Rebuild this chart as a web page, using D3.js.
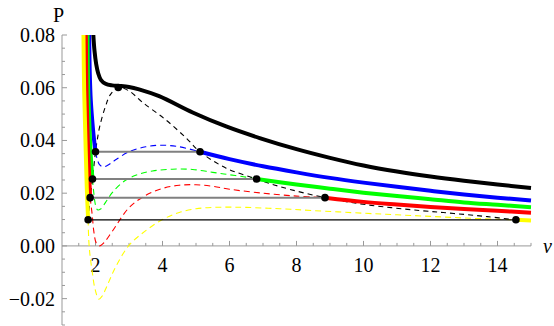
<!DOCTYPE html>
<html>
<head>
<meta charset="utf-8">
<script src="https://cdn.jsdelivr.net/npm/d3@7"></script>
<style>
  body { margin: 0; background: #fff; }
  svg { display: block; }
</style>
</head>
<body>
<div id="chart"></div>
<script>
// values, as [v, P]
const blackSolid = [[1.93, 0.081], [1.97, 0.074], [2.02, 0.069], [2.08, 0.0655], [2.16, 0.063], [2.3, 0.0615],
  [2.5, 0.0609], [2.7, 0.0607], [3.0, 0.0603], [3.3, 0.0594], [3.9, 0.0568], [4.9, 0.0506], [5.9, 0.0453],
  [6.9, 0.0409], [8.0, 0.0367], [9.0, 0.0334], [10.0, 0.0305], [11.0, 0.0282], [12.0, 0.0263], [13.0, 0.0247],
  [14.0, 0.0233], [15.0, 0.022]];

const blueLeft = [[1.81, 0.081], [1.83, 0.065], [1.86, 0.055], [1.9, 0.048], [1.95, 0.041], [2.0, 0.0357]];
const blueRight = [[5.12, 0.0357], [6.0, 0.0329], [7.0, 0.0302], [8.0, 0.0279], [9.0, 0.0258], [10.0, 0.024],
  [11.0, 0.0224], [12.0, 0.0209], [13.0, 0.0195], [14.0, 0.0183], [15.0, 0.0172]];
const blueDashed = [[2.0, 0.0357], [2.05, 0.033], [2.12, 0.0308], [2.22, 0.03], [2.35, 0.0305], [2.55, 0.0322],
  [3.0, 0.0357], [3.5, 0.0376], [3.95, 0.0382], [4.5, 0.0376], [5.12, 0.0357]];

const greenLeft = [[1.76, 0.081], [1.78, 0.06], [1.82, 0.045], [1.86, 0.034], [1.91, 0.0254]];
const greenRight = [[6.81, 0.0254], [8.0, 0.0233], [9.0, 0.0217], [10.0, 0.0202], [11.0, 0.0189], [12.0, 0.0177],
  [13.0, 0.0165], [14.0, 0.0156], [15.0, 0.0147]];
const greenDashed = [[1.91, 0.0254], [1.95, 0.02], [2.0, 0.0155], [2.06, 0.0137], [2.15, 0.014], [2.3, 0.0165],
  [2.5, 0.0202], [2.8, 0.024], [3.2, 0.0268], [3.7, 0.0284], [4.3, 0.0291], [4.9, 0.029], [5.5, 0.0279],
  [6.0, 0.027], [6.5, 0.0261], [6.81, 0.0254]];

const redLeft = [[1.71, 0.081], [1.73, 0.06], [1.77, 0.04], [1.81, 0.027], [1.84, 0.0183]];
const redRight = [[8.85, 0.0183], [10.0, 0.0167], [11.0, 0.0157], [12.0, 0.0148], [13.0, 0.014], [14.0, 0.0133],
  [15.0, 0.0126]];
const redDashed = [[1.84, 0.0183], [1.9, 0.012], [1.95, 0.0055], [2.02, 0.0012], [2.12, 0.0], [2.25, 0.0012],
  [2.5, 0.0055], [3.0, 0.0145], [3.5, 0.0192], [4.0, 0.0218], [4.5, 0.023], [5.0, 0.0232], [5.5, 0.0226],
  [6.0, 0.0215], [7.0, 0.02], [8.0, 0.0189], [8.85, 0.0183]];

const yellowLeft = [[1.64, 0.081], [1.66, 0.06], [1.7, 0.04], [1.74, 0.022], [1.78, 0.0099]];
const yellowRight = [[14.55, 0.0099], [15.0, 0.0096]];
const yellowDashed = [[1.78, 0.0099], [1.8, 0.002], [1.84, -0.004], [1.9, -0.0095], [1.98, -0.016], [2.1, -0.0202],
  [2.2, -0.019], [2.35, -0.015], [2.6, -0.008], [3.0, 0.0002], [3.5, 0.0058], [4.0, 0.01], [4.5, 0.0127],
  [5.0, 0.0141], [5.5, 0.0146], [6.0, 0.0147], [6.5, 0.0146], [7.5, 0.0141], [8.5, 0.0134], [10.0, 0.0124],
  [11.0, 0.0118], [12.0, 0.0112], [13.0, 0.0106], [14.0, 0.0101], [14.55, 0.0099]];

// coexistence curve through the end points
const blackDashed = [[1.78, 0.0099], [1.84, 0.0183], [1.91, 0.0254], [2.0, 0.0357], [2.05, 0.04], [2.13, 0.0455],
  [2.3, 0.053], [2.45, 0.0575], [2.68, 0.0601], [3.0, 0.0588], [3.4, 0.0545], [4.1, 0.0478], [4.7, 0.041],
  [5.12, 0.0357], [5.9, 0.0295], [6.81, 0.0254], [7.5, 0.0225], [8.85, 0.0183], [10.1, 0.0156], [11.7, 0.0134],
  [12.7, 0.0123], [13.7, 0.0111], [14.55, 0.0099]];

// tie lines: [vLeft, vRight, P]
const tieLines = [[2.0, 5.12, 0.0357], [1.91, 6.81, 0.0254], [1.84, 8.85, 0.0183], [1.78, 14.55, 0.0099]];
const criticalPoint = [2.68, 0.0601];

const xTicks = [2, 4, 6, 8, 10, 12, 14];
const yTicks = [-0.02, 0, 0.02, 0.04, 0.06, 0.08];

const width = 554, height = 326;
const x = d3.scaleLinear().domain([1, 15]).range([62, 531]);
const y = d3.scaleLinear().domain([-0.03, 0.08]).range([325, 35]);

const svg = d3.select('#chart').append('svg')
  .attr('width', width)
  .attr('height', height)
  .style('font-family', '"Liberation Serif", "Times New Roman", serif');

svg.append('defs').append('clipPath').attr('id', 'plot')
  .append('rect')
  .attr('x', x(1)).attr('y', y(0.08))
  .attr('width', x(15) - x(1) + 4).attr('height', y(-0.03) - y(0.08));

// axes
const axisColor = '#999';
const minorX = d3.range(1.5, 15.01, 0.5).filter(v => v % 2 !== 0);
const minorY = d3.range(-0.03, 0.0801, 0.005).filter(p => !yTicks.some(t => Math.abs(t - p) < 1e-6));

const axes = svg.append('g');
axes.append('line')
  .attr('x1', x(1)).attr('x2', x(15))
  .attr('y1', y(0)).attr('y2', y(0))
  .attr('stroke', axisColor);
axes.append('line')
  .attr('x1', x(1)).attr('x2', x(1))
  .attr('y1', y(-0.03)).attr('y2', y(0.08))
  .attr('stroke', axisColor);

axes.selectAll('.xmaj').data(xTicks).join('line')
  .attr('x1', d => x(d)).attr('x2', d => x(d))
  .attr('y1', y(0)).attr('y2', y(0) - 5)
  .attr('stroke', axisColor);
axes.selectAll('.xmin').data(minorX).join('line')
  .attr('x1', d => x(d)).attr('x2', d => x(d))
  .attr('y1', y(0)).attr('y2', y(0) - 3)
  .attr('stroke', axisColor);
axes.selectAll('.ymaj').data(yTicks).join('line')
  .attr('x1', x(1)).attr('x2', x(1) + 5)
  .attr('y1', d => y(d)).attr('y2', d => y(d))
  .attr('stroke', axisColor);
axes.selectAll('.ymin').data(minorY).join('line')
  .attr('x1', x(1)).attr('x2', x(1) + 3)
  .attr('y1', d => y(d)).attr('y2', d => y(d))
  .attr('stroke', axisColor);

axes.selectAll('.xlab').data(xTicks).join('text')
  .attr('x', d => x(d)).attr('y', y(0) + 26)
  .attr('text-anchor', 'middle')
  .attr('font-size', 20)
  .text(d => d);
axes.selectAll('.ylab').data(yTicks).join('text')
  .attr('x', 55).attr('y', d => y(d) + 7)
  .attr('text-anchor', 'end')
  .attr('font-size', 20)
  .text(d => d < 0 ? '\u2212' + Math.abs(d).toFixed(2) : d.toFixed(2));

svg.append('text')
  .attr('x', 53).attr('y', 22)
  .attr('font-size', 20)
  .text('P');
svg.append('text')
  .attr('x', 543).attr('y', 253)
  .attr('font-size', 20)
  .attr('font-style', 'italic')
  .text('v');

// curves
const line = d3.line()
  .x(d => x(d[0]))
  .y(d => y(d[1]))
  .curve(d3.curveCatmullRom.alpha(0.5));

const plot = svg.append('g').attr('clip-path', 'url(#plot)');

const dashed = [[yellowDashed, '#ffff00'], [redDashed, '#ff0000'], [greenDashed, '#00ff00'], [blueDashed, '#0000ff']];
dashed.forEach(([data, color]) => {
  plot.append('path')
    .datum(data)
    .attr('fill', 'none')
    .attr('stroke', color)
    .attr('stroke-width', 1.1)
    .attr('stroke-dasharray', '6,4')
    .attr('d', line);
});

plot.append('path')
  .datum(blackDashed)
  .attr('fill', 'none')
  .attr('stroke', '#000')
  .attr('stroke-width', 1.1)
  .attr('stroke-dasharray', '5,4')
  .attr('d', line);

// horizontal tie lines
plot.selectAll('.tie').data(tieLines).join('line')
  .attr('x1', d => x(d[0])).attr('x2', d => x(d[1]))
  .attr('y1', d => y(d[2])).attr('y2', d => y(d[2]))
  .attr('stroke', (d, i) => i === 3 ? '#000' : '#808080')
  .attr('stroke-width', (d, i) => i === 3 ? 1.3 : 2);

const solid = [
  [blueLeft, '#0000ff'], [blueRight, '#0000ff'],
  [greenLeft, '#00ff00'], [greenRight, '#00ff00'],
  [redLeft, '#ff0000'], [redRight, '#ff0000'],
  [yellowLeft, '#ffff00'], [yellowRight, '#ffff00'],
  [blackSolid, '#000']
];
solid.forEach(([data, color]) => {
  plot.append('path')
    .datum(data)
    .attr('fill', 'none')
    .attr('stroke', color)
    .attr('stroke-width', 4)
    .attr('d', line);
});

// end points and critical point
const dots = tieLines.flatMap(d => [[d[0], d[2]], [d[1], d[2]]]).concat([criticalPoint]);
svg.selectAll('.dot').data(dots).join('circle')
  .attr('cx', d => x(d[0]))
  .attr('cy', d => y(d[1]))
  .attr('r', 3.8)
  .attr('fill', '#000');
</script>
</body>
</html>
